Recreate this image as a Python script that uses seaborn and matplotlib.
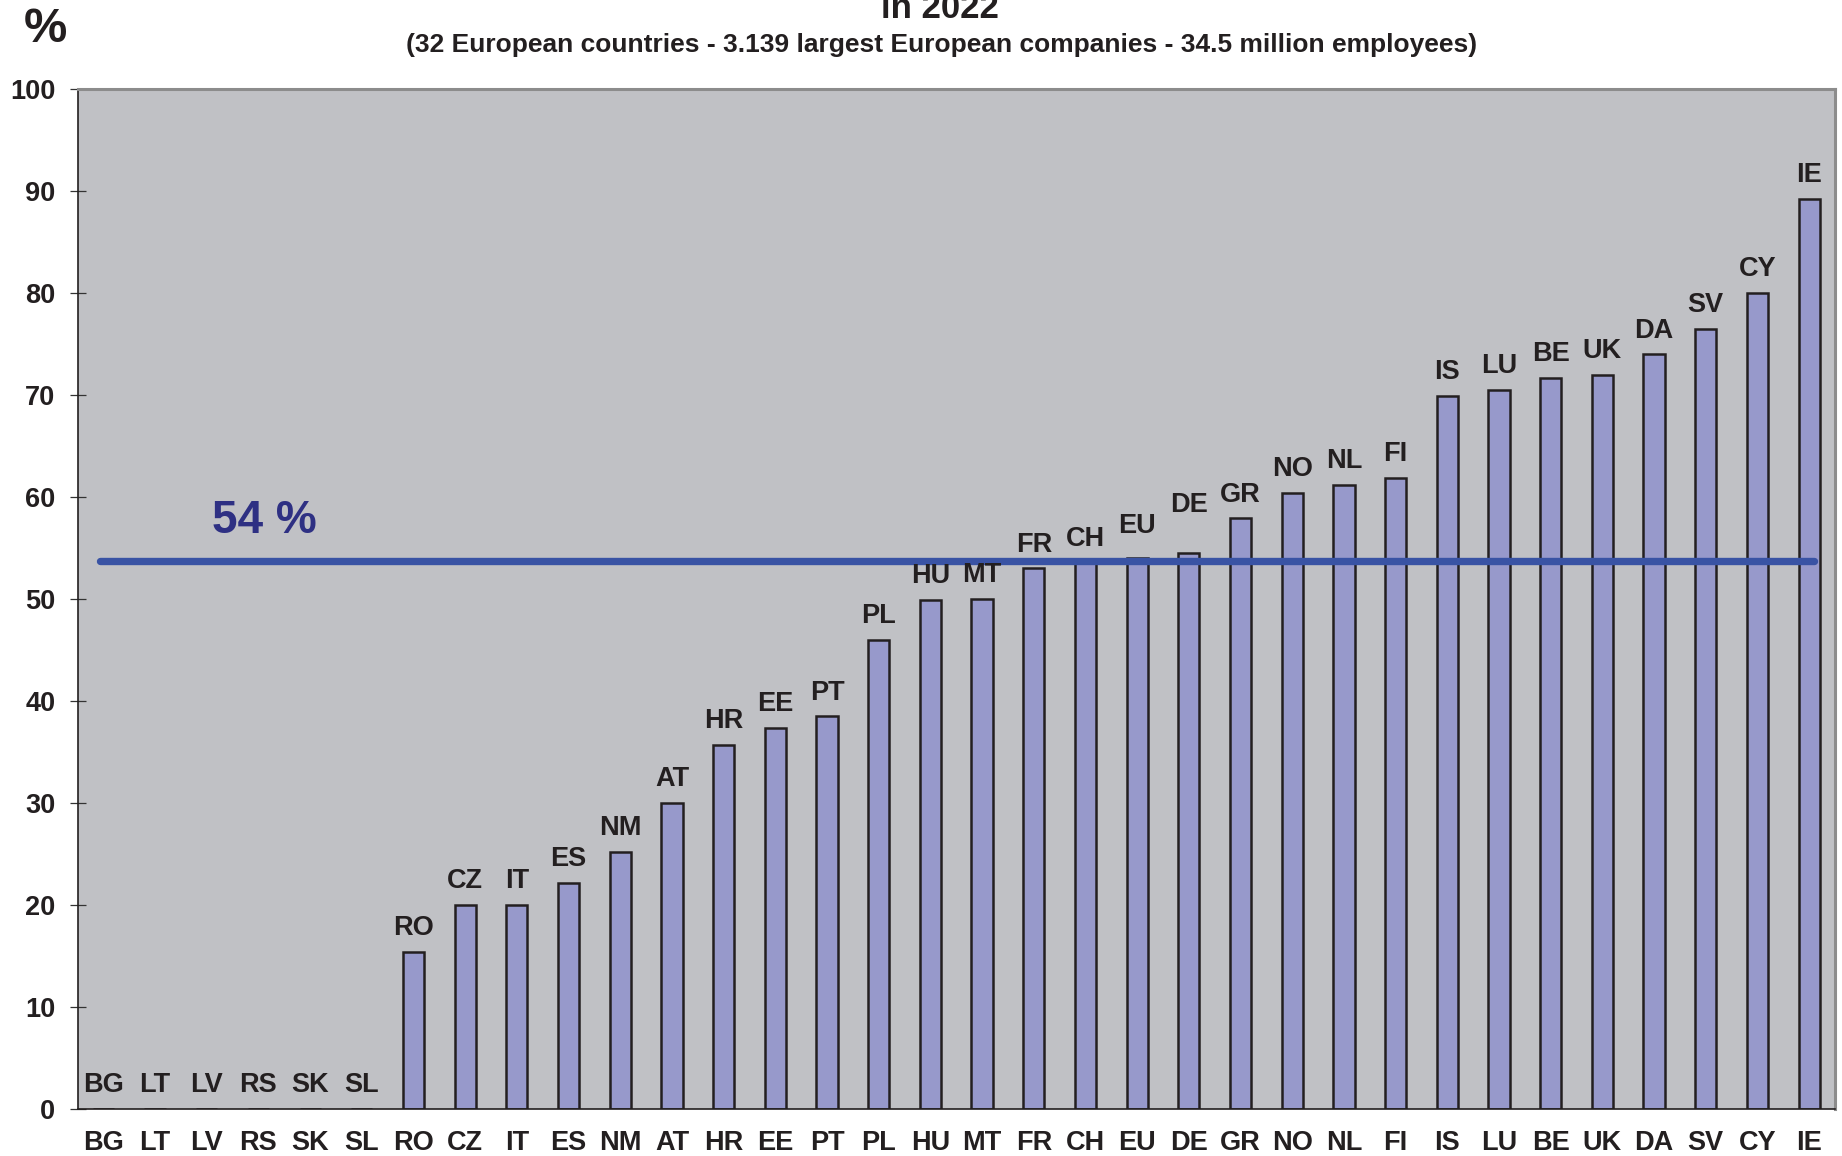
import pandas as pd
import matplotlib
matplotlib.use('Agg')
import matplotlib.pyplot as plt
import seaborn as sns

# data
countries = ['BG', 'LT', 'LV', 'RS', 'SK', 'SL', 'RO', 'CZ', 'IT', 'ES', 'NM', 'AT',
             'HR', 'EE', 'PT', 'PL', 'HU', 'MT', 'FR', 'CH', 'EU', 'DE', 'GR', 'NO',
             'NL', 'FI', 'IS', 'LU', 'BE', 'UK', 'DA', 'SV', 'CY', 'IE']
values = [0, 0, 0, 0, 0, 0, 15.4, 20.0, 20.0, 22.2, 25.2, 30.0,
          35.7, 37.4, 38.5, 46.0, 49.9, 50.0, 53.0, 53.6, 54.0, 54.5, 57.9, 60.4,
          61.2, 61.9, 69.9, 70.5, 71.7, 72.0, 74.0, 76.5, 80.0, 89.2]
average = 53.7
yticks = [0, 10, 20, 30, 40, 50, 60, 70, 80, 90, 100]
title_line = 'in 2022'
subtitle = '(32 European countries - 3.139 largest European companies - 34.5 million employees)'

# extra lift for labels that sit above the average line
label_lift = {'EU': 0.8, 'DE': 2.4}

df = pd.DataFrame({'country': countries, 'value': values})

sns.set_theme(style='white')
plt.rcParams['font.family'] = ['Liberation Sans', 'DejaVu Sans']
plt.rcParams['font.weight'] = 'bold'

TXT = '#231f20'
fig = plt.figure(figsize=(18.42, 11.56), dpi=100)
ax = fig.add_axes([77.5 / 1842, 1 - 1109 / 1156, (1835 - 77.5) / 1842, (1109 - 89) / 1156])
ax.set_facecolor('#c0c1c5')

sns.barplot(data=df, x='country', y='value', color='#9799cb', saturation=1,
            width=0.41, edgecolor=TXT, linewidth=1.8, ax=ax, zorder=2)

for i, (c, v) in enumerate(zip(countries, values)):
    ax.annotate(c, (i, v + label_lift.get(c, 0)), xytext=(0, 12), textcoords='offset points',
                ha='center', va='baseline', fontsize=19.5, fontweight='bold', color=TXT, zorder=4)

ax.plot([-0.07, 33.1], [average, average], color='#3953a4', lw=5.3,
        solid_capstyle='round', zorder=3)
ax.text(2.1, 56.5, '54 %', fontsize=33, fontweight='bold', color='#2e3083',
        ha='left', va='baseline', zorder=4)

ax.set_xlim(-0.5, len(countries) - 0.5)
ax.set_ylim(0, 100)
ax.set_yticks(yticks)
ax.set_yticklabels([str(t) for t in yticks], fontsize=19.5, fontweight='bold', color=TXT)
ax.set_xticks(range(len(countries)))
ax.set_xticklabels(countries, fontsize=19.5, fontweight='bold', color=TXT)
ax.set_xticks([i - 0.5 for i in range(len(countries) + 1)], minor=True)
ax.tick_params(axis='x', which='major', length=0, pad=15)
ax.tick_params(axis='x', which='minor', direction='inout', length=11, width=0.9, color='#333333')
ax.tick_params(axis='y', direction='inout', length=11, width=0.9, color='#333333', pad=10.5,
               left=True)
ax.set_xlabel('')
ax.set_ylabel('')

for side in ['left', 'bottom']:
    ax.spines[side].set_color(TXT)
    ax.spines[side].set_linewidth(1.2)
for side in ['top', 'right']:
    ax.spines[side].set_color('#8c8c8c')
    ax.spines[side].set_linewidth(2.2)

fig.text(940 / 1842, 1 - 18 / 1156, title_line, ha='center', va='baseline',
         fontsize=25, fontweight='bold', color=TXT)
fig.text(942 / 1842, 1 - 52 / 1156, subtitle, ha='center', va='baseline',
         fontsize=19, fontweight='bold', color=TXT)
fig.text(45 / 1842, 1 - 30 / 1156, '%', ha='center', va='center',
         fontsize=35, fontweight='bold', color=TXT)

fig.savefig('out.png', dpi=100)
